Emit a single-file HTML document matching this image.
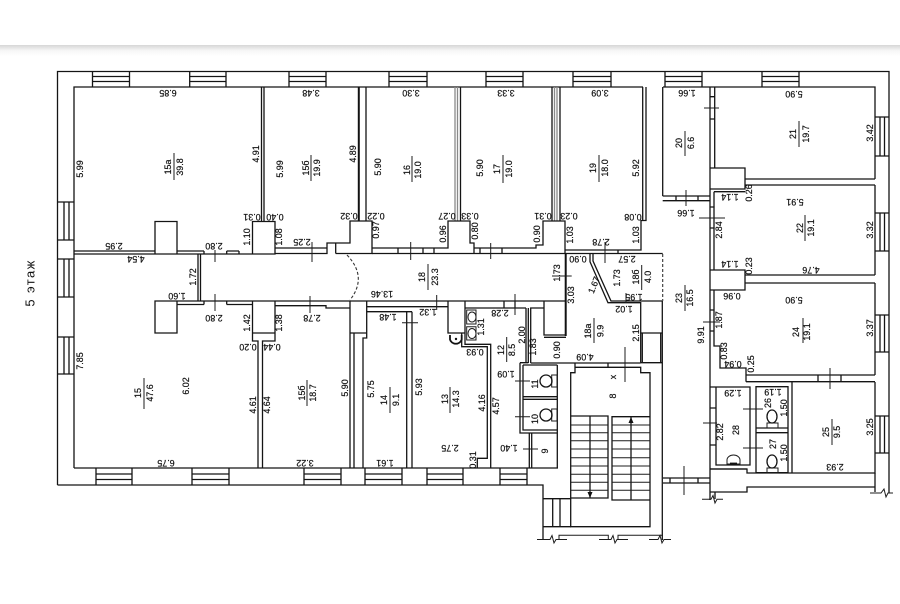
<!DOCTYPE html>
<html><head><meta charset="utf-8">
<style>
html,body{margin:0;padding:0;background:#fff;width:900px;height:604px;overflow:hidden}
#band{position:absolute;left:0;top:45px;width:900px;height:11px;background:linear-gradient(#d6d6d6,#f6f6f6 50%,#fff)}
svg{position:absolute;left:0;top:0;filter:blur(.35px)}
text{font-family:"Liberation Sans","DejaVu Sans",sans-serif;font-size:8.9px;fill:#111;text-anchor:middle;dominant-baseline:central;stroke:#111;stroke-width:.2px}
.l{fill:none;stroke:#141414;stroke-width:1.3}
.g{fill:none;stroke:#8a8a8a;stroke-width:1.3}
.b{fill:none;stroke:#111;stroke-width:2}
.d{fill:none;stroke:#333;stroke-width:1.1;stroke-dasharray:3 2}
.t{fill:none;stroke:#1c1c1c;stroke-width:1}
.big{font-size:13px;letter-spacing:1.4px;stroke-width:0}
</style></head><body>
<div id="band"></div>
<svg width="900" height="604" viewBox="0 0 900 604" xmlns="http://www.w3.org/2000/svg">
<!-- outer walls -->
<path class="l" d="M57.500 485V71.500H889V493M74 468V87H643M663 87H875V179M875 185V275M875 283V375M875 382V473H747V469H710M57.500 485H543V540M74 468H558M543 526.700H571M543 498.700H571M552.700 498.700V526.700M560 498.700V526.700"/>
<!-- break lines bottom -->
<path class="t" d="M537 539.500H550L552 535.500 554 543 556 539.500H567M559 539.500V535.300H608.300V539.500M599 539.500H611L613 535.500 615 543 617 539.500H628M618 539.500V535.300H662.700M649 539.500H658L660 535.500 662 543 664 539.500H671M702 499.300H711L713 495.500 715 503 717 499.300H723M870 493H881L884 489 886 497 888 493H893"/>
<path class="l" d="M875 473V487H747V492H710M875 487V492M715 491.700V499"/>
<!-- top windows -->
<path class="l" d="M92.500 71.500V87M129.500 71.500V87M92.500 76.500H129.500M92.500 81.500H129.500M189.700 71.500V87M226 71.500V87M189.700 76.500H226M189.700 81.500H226M289 71.500V87M326 71.500V87M289 76.500H326M289 81.500H326M389 71.500V87M427 71.500V87M389 76.500H427M389 81.500H427M486 71.500V87M523 71.500V87M486 76.500H523M486 81.500H523M573 71.500V87M611 71.500V87M573 76.500H611M573 81.500H611M665 71.500V87M702 71.500V87M665 76.500H702M665 81.500H702M762 71.500V87M799 71.500V87M762 76.500H799M762 81.500H799"/>
<!-- bottom windows -->
<path class="l" d="M96 468V485M132 468V485M96 474H132M96 479.500H132M192 468V485M229 468V485M192 474H229M192 479.500H229M304 468V485M341 468V485M304 474H341M304 479.500H341M365 468V485M402 468V485M365 474H402M365 479.500H402M427 468V485M463 468V485M427 474H463M427 479.500H463M500 468V485M527 468V485M500 474H527M500 479.500H527"/>
<!-- left windows -->
<path class="l" d="M57.500 202H74M57.500 240H74M64 202V240M69 202V240M57.500 259H74M57.500 297H74M64 259V297M69 259V297M57.500 337H74M57.500 374H74M64 337V374M69 337V374"/>
<!-- right windows -->
<path class="l" d="M875 117H889M875 156H889M880 117V156M884.500 117V156M875 213H889M875 251H889M880 213V251M884.500 213V251M875 315H889M875 352H889M880 315V352M884.500 315V352M875 416H889M875 453H889M880 416V453M884.500 416V453"/>
<!-- west rooms -->
<path class="l" d="M261.500 87V221M264 87V221M252.500 221.500H275V254H252.500ZM155 221.500H177V254H155ZM74 251H155M74 254H155M177 251H204M226.700 251H239M177 254H252.500M204 251V254M226.700 251V254M239 251V254M275 248H327M275 253.500H327V248M327 248V243H335.700V253.500M335.700 243H350V221H372V253.500H335.700M198 254V301M200.500 254V301"/>
<path class="l" d="M155 301H177V333H155ZM177 301H252.500M177 304.500H204M226.700 304.500H252.500M204 301V304.500M226.700 301V304.500M252.500 301H275V333H252.500ZM252.500 333V341H258V468M262.500 468V341H275V333M275 301H350M275 305.700H326V308H350"/>
<!-- top room walls -->
<path class="b" d="M358.800 87V221"/>
<path class="l" d="M366 87V221"/>
<path class="g" d="M455 87V221M457.500 87V221"/>
<path class="l" d="M460.500 87V221M552 87V221"/>
<path class="g" d="M554.500 87V221M557 87V221"/>
<path class="l" d="M560 87V221M372 248H448V221H470V243H474V248H536V245H543V221H565V253.500M398 248V253.500M423 248V253.500M434 248V253.500M480 248V253.500M502 248V253.500M474 248V253.500M372 253.500H662.700M642.700 87V220.500H641V250H565M646 87V220.500H642.700M618 250V253.500"/>
<path class="d" d="M662.700 254V301"/>
<!-- corridor end and 18a/18b -->
<path class="b" d="M565.700 253.500V336"/>
<path class="l" d="M590 253.500V261.700L608 302.700H640.700V362.700M593 253.500V261L611 301H662M640.700 333H662M642.300 333V362M640.700 362.700H662M660.700 333V362M662.300 301V540"/>
<!-- corridor bottom + central rooms -->
<path class="l" d="M350 301H565M350 301V333H366.700V301M350 333V468M354 333V468M363 468V338H366.700V333M406.700 468V311.700M412 468V311.700M366.700 306.700H448M366.700 311.700H412M406.700 322.700V333M412 322.700V333M448 301H465V333H448ZM461.700 333V346.700H487.300V458.300H477.300V468M465 333V344.300H490.700V468M465 308H526M526 308V363M528.300 308V363M530.700 363V308H544M544 301V335H566M544 337.300H566M504 308V301M515 308V301"/>
<!-- WC block -->
<path class="l" d="M530.700 363H640.700M520 362.700H528.300M520 362.700V433H557.300M523 365H557.300M523 365V430H557.300M557.300 365V468M523 396.700H557.300M523 399.300H557.300M529.300 433V468M531.700 433V468"/>
<!-- stairs -->
<path class="l" d="M570.700 526.700V372.700H575V367.300H640.700V372.700H650V526.700ZM575 363V367.300M608 363V367.300M570.700 416H608V498H570.700M612 416.700H650V500H612ZM590 416V498M631 416.700V500"/>
<path class="t" d="M571 425H608M571 432.700H608M571 440.700H608M571 449H608M571 457.700H608M571 466H608M571 474.300H608M571 482.300H608M571 490.300H608M612 425H650M612 432.700H650M612 440.700H650M612 449H650M612 457.700H650M612 466H650M612 474.300H650M612 482.300H650M612 490.300H650"/>
<path d="M631 417l-2.500 6h5zM590 498l-2.500-6h5z" fill="#111"/>
<!-- east rooms -->
<path class="l" d="M662.700 87V196M662.700 196H710M662.700 200.700H710M710 87V500M714.700 87V168M710 168H745V189H710M745 179H875M745 185H875M714 191.700H745M714 191.700V270H745M710 270H745V290H710M745 275H875M745 283H875M714 290V346H720V368H746V381.700M710 387H750V465H716V387M746 375H875M746 381.700H875M710 469H747M756 386.700H788V472.700H756ZM756 428H788M756 432.700H788M792 381.700V473M710 96.700H714.700M710 119H714.700M710 207H714.700M710 228H714.700M710 310H714M710 331H714M710 408H716M710 445H716M676 196V200.700M698 196V200.700M818 375V381.700M841 375V381.700M663 478H710M663 483H710M670 478V483M698 478V483"/>
<!-- fixtures -->
<path class="t" d="M466.700 310h9.300v14h-9.300zM466.700 326.700h9.300v13.300h-9.300zM551.700 375h5.300v12h-5.300zM551.700 409h5.300v12h-5.300zM767 423h11v5h-11zM767 468h11v5h-11zM727 464v-4a6.500 5 0 0 1 13 0v4z"/>
<ellipse class="t" cx="472" cy="317" rx="4" ry="5"/><ellipse class="t" cx="472" cy="333.500" rx="4" ry="5"/>
<ellipse class="l" cx="546" cy="381" rx="6" ry="6"/><ellipse class="l" cx="546" cy="415" rx="6" ry="6"/>
<ellipse class="l" cx="772" cy="416.500" rx="5" ry="6.500"/><ellipse class="l" cx="772" cy="461.500" rx="5" ry="6.500"/>
<path d="M450 335v4.500a6 5.500 0 0 0 11.700 0V335" fill="none" stroke="#111" stroke-width="1.8"/>
<circle cx="456" cy="339" r="1.200" fill="#111"/>
<path d="M730 463.500h7" stroke="#111" stroke-width="1.800"/>
<!-- door arc -->
<path class="d" d="M347 255Q368 277 350 300"/>
<!-- door ticks -->
<path class="t" d="M215 250V262M215 294V311M312 242V262M410.700 242V260M490.700 243V259M310 296V313M436.700 295V310M515 294V315M605 242V263M626 293V303M625 347V382M402 322.700H418M515 381H530M515 416.700H530M523 449H538M552 276H571.700M704 108H719M699 218H725M686 190V206M703 322H720M830 368V389M743 409H763M743 448H763M703 423H717M684 466V495"/>
<!-- fractions bars -->
<path class="t" d="M174 153V180M144 378V409M307 380V406M311 155V181M412 156V182M503 155V183M599 155V182M428 264V290M641.700 265V290M685 131V156M799 121V147M805 215V241M685 285V311M803 318V343M832 419V445M390 387V413M450 387V413M506.700 337V362M594 318V343"/>
<!-- upside-down labels -->
<text transform="translate(168 93)rotate(180)">6.85</text>
<text transform="translate(311 93)rotate(180)">3.48</text>
<text transform="translate(411 93)rotate(180)">3.30</text>
<text transform="translate(506 93)rotate(180)">3.33</text>
<text transform="translate(600 93)rotate(180)">3.09</text>
<text transform="translate(687 93)rotate(180)">1.66</text>
<text transform="translate(794 94)rotate(180)">5.90</text>
<text transform="translate(686 213)rotate(180)">1.66</text>
<text transform="translate(795 202)rotate(180)">5.91</text>
<text transform="translate(730 197)rotate(180)">1.14</text>
<text transform="translate(730 264)rotate(180)">1.14</text>
<text transform="translate(811 270)rotate(180)">4.76</text>
<text transform="translate(732 296)rotate(180)">0.96</text>
<text transform="translate(794 300)rotate(180)">5.90</text>
<text transform="translate(733 393)rotate(180)">1.29</text>
<text transform="translate(773 392)rotate(180)">1.19</text>
<text transform="translate(835 467)rotate(180)">2.93</text>
<text transform="translate(733 364)rotate(180)">0.94</text>
<text transform="translate(633 217)rotate(180)">0.08</text>
<text transform="translate(627 259)rotate(180)">2.57</text>
<text transform="translate(634 297)rotate(180)">1.95</text>
<text transform="translate(624 309)rotate(180)">1.02</text>
<text transform="translate(578 259)rotate(180)">0.90</text>
<text transform="translate(382 294)rotate(180)">13.46</text>
<text transform="translate(349 216)rotate(180)">0.32</text>
<text transform="translate(376 216)rotate(180)">0.22</text>
<text transform="translate(447 216)rotate(180)">0.27</text>
<text transform="translate(470 216)rotate(180)">0.33</text>
<text transform="translate(543 216)rotate(180)">0.31</text>
<text transform="translate(569 216)rotate(180)">0.23</text>
<text transform="translate(302 242)rotate(180)">2.25</text>
<text transform="translate(601 242)rotate(180)">2.78</text>
<text transform="translate(252 217)rotate(180)">0.31</text>
<text transform="translate(275 217)rotate(180)">0.40</text>
<text transform="translate(114 246)rotate(180)">2.95</text>
<text transform="translate(214 246)rotate(180)">2.80</text>
<text transform="translate(136 259)rotate(180)">4.54</text>
<text transform="translate(177 296)rotate(180)">1.60</text>
<text transform="translate(214 318)rotate(180)">2.80</text>
<text transform="translate(312 318)rotate(180)">2.78</text>
<text transform="translate(428 312)rotate(180)">1.32</text>
<text transform="translate(388 317)rotate(180)">1.48</text>
<text transform="translate(500 313)rotate(180)">2.28</text>
<text transform="translate(475 352)rotate(180)">0.93</text>
<text transform="translate(506 374)rotate(180)">1.09</text>
<text transform="translate(450 448)rotate(180)">2.75</text>
<text transform="translate(509 448)rotate(180)">1.40</text>
<text transform="translate(385 463)rotate(180)">1.61</text>
<text transform="translate(585 357)rotate(180)">4.09</text>
<text transform="translate(166 463)rotate(180)">6.75</text>
<text transform="translate(305 463)rotate(180)">3.22</text>
<text transform="translate(248 347)rotate(180)">0.20</text>
<text transform="translate(272 347)rotate(180)">0.44</text>
<!-- vertical labels -->
<text transform="translate(80 169)rotate(-90)">5.99</text>
<text transform="translate(256 154)rotate(-90)">4.91</text>
<text transform="translate(280 169)rotate(-90)">5.99</text>
<text transform="translate(247 237)rotate(-90)">1.10</text>
<text transform="translate(279 237)rotate(-90)">1.08</text>
<text transform="translate(193 277)rotate(-90)">1.72</text>
<text transform="translate(168 167)rotate(-90)">15а</text>
<text transform="translate(180 167)rotate(-90)">39.8</text>
<text transform="translate(80 361)rotate(-90)">7.85</text>
<text transform="translate(247 323)rotate(-90)">1.42</text>
<text transform="translate(279 323)rotate(-90)">1.38</text>
<text transform="translate(186 386)rotate(-90)">6.02</text>
<text transform="translate(253 405)rotate(-90)">4.61</text>
<text transform="translate(267 405)rotate(-90)">4.64</text>
<text transform="translate(138 393)rotate(-90)">15</text>
<text transform="translate(150 393)rotate(-90)">47.6</text>
<text transform="translate(302 393)rotate(-90)">15б</text>
<text transform="translate(313 393)rotate(-90)">18.7</text>
<text transform="translate(345 388)rotate(-90)">5.90</text>
<text transform="translate(371 389)rotate(-90)">5.75</text>
<text transform="translate(384 400)rotate(-90)">14</text>
<text transform="translate(396 400)rotate(-90)">9.1</text>
<text transform="translate(419 387)rotate(-90)">5.93</text>
<text transform="translate(445 399)rotate(-90)">13</text>
<text transform="translate(456 399)rotate(-90)">14.3</text>
<text transform="translate(482 403)rotate(-90)">4.16</text>
<text transform="translate(496 406)rotate(-90)">4.57</text>
<text transform="translate(473 460)rotate(-90)">0.31</text>
<text transform="translate(481 327)rotate(-90)">1.31</text>
<text transform="translate(522 335)rotate(-90)">2.00</text>
<text transform="translate(533 347)rotate(-90)">1.83</text>
<text transform="translate(501 350)rotate(-90)">12</text>
<text transform="translate(512 350)rotate(-90)">8.5</text>
<text transform="translate(557 350)rotate(-90)">0.90</text>
<text transform="translate(588 331)rotate(-90)">18а</text>
<text transform="translate(600.700 331)rotate(-90)">9.9</text>
<text transform="translate(636 333)rotate(-90)">2.15</text>
<text transform="translate(571 295)rotate(-90)">3.03</text>
<text transform="translate(557 273)rotate(-90)">1.73</text>
<text transform="translate(594 285)rotate(-68)">1.67</text>
<text transform="translate(617 278)rotate(-90)">1.73</text>
<text transform="translate(636 277)rotate(-90)">18б</text>
<text transform="translate(648 277)rotate(-90)">4.0</text>
<text transform="translate(570 235)rotate(-90)">1.03</text>
<text transform="translate(636 235)rotate(-90)">1.03</text>
<text transform="translate(376 230)rotate(-90)">0.97</text>
<text transform="translate(443 234)rotate(-90)">0.96</text>
<text transform="translate(475 231)rotate(-90)">0.80</text>
<text transform="translate(537 234)rotate(-90)">0.90</text>
<text transform="translate(353 154)rotate(-90)">4.89</text>
<text transform="translate(378 167)rotate(-90)">5.90</text>
<text transform="translate(480 168)rotate(-90)">5.90</text>
<text transform="translate(636 168)rotate(-90)">5.92</text>
<text transform="translate(306 168)rotate(-90)">15б</text>
<text transform="translate(317 168)rotate(-90)">19.9</text>
<text transform="translate(407 170)rotate(-90)">16</text>
<text transform="translate(418 170)rotate(-90)">19.0</text>
<text transform="translate(497 169)rotate(-90)">17</text>
<text transform="translate(509 169)rotate(-90)">19.0</text>
<text transform="translate(593 168)rotate(-90)">19</text>
<text transform="translate(605 168)rotate(-90)">18.0</text>
<text transform="translate(422 277)rotate(-90)">18</text>
<text transform="translate(435 277)rotate(-90)">23.3</text>
<text transform="translate(679 143)rotate(-90)">20</text>
<text transform="translate(691 143)rotate(-90)">6.6</text>
<text transform="translate(793 134)rotate(-90)">21</text>
<text transform="translate(806 134)rotate(-90)">19.7</text>
<text transform="translate(800 228)rotate(-90)">22</text>
<text transform="translate(811 228)rotate(-90)">19.1</text>
<text transform="translate(679 298)rotate(-90)">23</text>
<text transform="translate(690 298)rotate(-90)">16.5</text>
<text transform="translate(796 332)rotate(-90)">24</text>
<text transform="translate(807 332)rotate(-90)">19.1</text>
<text transform="translate(826 432)rotate(-90)">25</text>
<text transform="translate(837 432)rotate(-90)">9.5</text>
<text transform="translate(870 133)rotate(-90)">3.42</text>
<text transform="translate(870 230)rotate(-90)">3.32</text>
<text transform="translate(870 328)rotate(-90)">3.37</text>
<text transform="translate(870 427)rotate(-90)">3.25</text>
<text transform="translate(749 193)rotate(-90)">0.26</text>
<text transform="translate(719 230)rotate(-90)">2.84</text>
<text transform="translate(749 266)rotate(-90)">0.23</text>
<text transform="translate(719 320)rotate(-90)">1.87</text>
<text transform="translate(724 351)rotate(-90)">0.83</text>
<text transform="translate(751 364)rotate(-90)">0.25</text>
<text transform="translate(701 335)rotate(-90)">9.91</text>
<text transform="translate(720 432)rotate(-90)">2.82</text>
<text transform="translate(736 430)rotate(-90)">28</text>
<text transform="translate(768 403)rotate(-90)">26</text>
<text transform="translate(784 408)rotate(-90)">1.50</text>
<text transform="translate(773 444)rotate(-90)">27</text>
<text transform="translate(784 453)rotate(-90)">1.50</text>
<text transform="translate(535 384)rotate(-90)">11</text>
<text transform="translate(535 419)rotate(-90)">10</text>
<text transform="translate(545 451)rotate(-90)">9</text>
<text transform="translate(613 396)rotate(-90)">8</text>
<text transform="translate(613 377)rotate(-90)">x</text>
<text class="big" transform="translate(30 283)rotate(-90)">5 этаж</text>
</svg>
</body></html>
